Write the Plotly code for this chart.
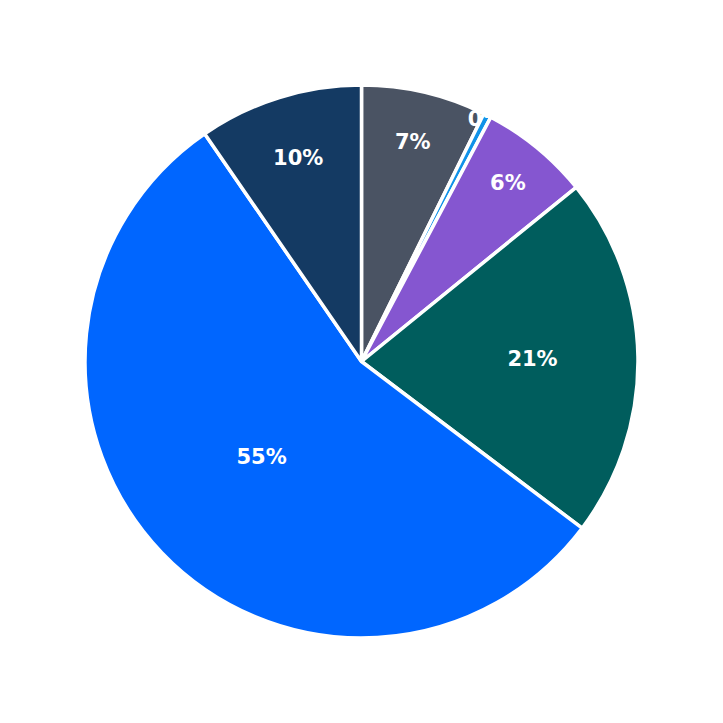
import plotly.graph_objects as go

labels = ["A", "B", "C", "D", "E", "F"]
values = [7.3, 0.45, 6.4, 21.15, 55.1, 9.6]
colors = ["#4a5363", "#1192e8", "#8556d0", "#005d5d", "#0066ff", "#143a63"]

fig = go.Figure(go.Pie(
    labels=labels,
    values=values,
    sort=False,
    direction="clockwise",
    rotation=0,
    marker=dict(colors=colors, line=dict(color="white", width=3.5)),
    textinfo="percent",
    texttemplate="%{percent:.0%}",
    textposition="inside",
    insidetextorientation="horizontal",
    textfont=dict(family="DejaVu Sans", size=21, color="white", weight="bold"),
))
fig.update_layout(
    width=723, height=723,
    margin=dict(l=77, r=93, t=77, b=93),
    showlegend=False,
    paper_bgcolor="white",
    uniformtext=dict(minsize=21, mode="show"),
)
fig.write_html("out.html")
